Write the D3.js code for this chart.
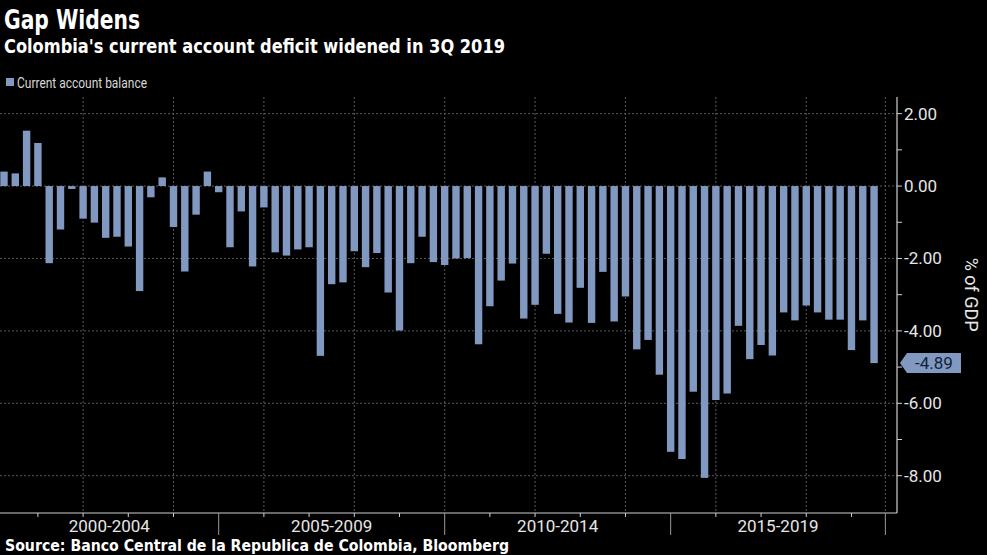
<!DOCTYPE html>
<html>
<head>
<meta charset="utf-8">
<script src="https://cdn.jsdelivr.net/npm/d3@7/dist/d3.min.js"></script>
<style>
  html, body { margin: 0; padding: 0; background: #000; }
  svg { display: block; }
</style>
</head>
<body>
<svg id="chart" width="987" height="555"></svg>
<script>
const title = "Gap Widens";
const subtitle = "Colombia's current account deficit widened in 3Q 2019";
const legendLabel = "Current account balance";
const source = "Source: Banco Central de la Republica de Colombia, Bloomberg";
const yAxisTitle = "% of GDP";

const quarters = [
  "2000Q2","2000Q3","2000Q4",
  "2001Q1","2001Q2","2001Q3","2001Q4",
  "2002Q1","2002Q2","2002Q3","2002Q4",
  "2003Q1","2003Q2","2003Q3","2003Q4",
  "2004Q1","2004Q2","2004Q3","2004Q4",
  "2005Q1","2005Q2","2005Q3","2005Q4",
  "2006Q1","2006Q2","2006Q3","2006Q4",
  "2007Q1","2007Q2","2007Q3","2007Q4",
  "2008Q1","2008Q2","2008Q3","2008Q4",
  "2009Q1","2009Q2","2009Q3","2009Q4",
  "2010Q1","2010Q2","2010Q3","2010Q4",
  "2011Q1","2011Q2","2011Q3","2011Q4",
  "2012Q1","2012Q2","2012Q3","2012Q4",
  "2013Q1","2013Q2","2013Q3","2013Q4",
  "2014Q1","2014Q2","2014Q3","2014Q4",
  "2015Q1","2015Q2","2015Q3","2015Q4",
  "2016Q1","2016Q2","2016Q3","2016Q4",
  "2017Q1","2017Q2","2017Q3","2017Q4",
  "2018Q1","2018Q2","2018Q3","2018Q4",
  "2019Q1","2019Q2","2019Q3"
];

const values = [
  0.40, 0.35, 1.53,
  1.19, -2.13, -1.20, -0.08,
  -0.90, -1.01, -1.43, -1.40,
  -1.67, -2.90, -0.31, 0.24,
  -1.13, -2.36, -0.79, 0.40,
  -0.17, -1.69, -0.70, -2.22,
  -0.59, -1.83, -1.92, -1.75,
  -1.69, -4.69, -2.71, -2.66,
  -1.80, -2.24, -1.85, -2.94,
  -3.99, -2.13, -1.40, -2.10,
  -2.18, -2.00, -1.99, -4.37,
  -3.32, -2.61, -2.14, -3.66,
  -3.28, -1.87, -3.53, -3.77,
  -2.81, -3.78, -2.37, -3.74,
  -3.05, -4.51, -4.25, -5.21,
  -7.34, -7.54, -5.68, -8.06,
  -5.91, -5.73, -3.86, -4.78,
  -4.39, -4.68, -3.49, -3.71,
  -3.30, -3.49, -3.69, -3.69,
  -4.53, -3.71, -4.89
];

const yTicks = [2, 0, -2, -4, -6, -8];
const yMinorTicks = [1, -1, -3, -5, -7];
const groupLabels = ["2000-2004", "2005-2009", "2010-2014", "2015-2019"];
const groupStarts = ["2005Q1", "2010Q1", "2015Q1"];  // separators between groups
const gridQuarters = ["2002Q1","2004Q1","2006Q1","2008Q1","2010Q1","2012Q1","2014Q1","2016Q1","2018Q1"];

// ---------- layout ----------
const svg = d3.select("#chart");
const W = 987, H = 555;
const plot = { left: 0, right: 897, top: 97, bottom: 513 };

svg.append("rect").attr("width", W).attr("height", H).attr("fill", "#000");

const idx = q => quarters.indexOf(q);
const n = quarters.length;

const x = d3.scaleLinear()
  .domain([-0.354, n + 1.03])
  .range([plot.left, plot.right]);
const step = x(1) - x(0);
const barW = step * 0.655;

const y = d3.scaleLinear()
  .domain([-9.03, 2.46])
  .range([plot.bottom, plot.top]);

const textCol = "#e6e6e6";
const axisCol = "#d0d0d0";
const gridCol = "#5a5a5a";
const barCol = "#8199c0";
const FONT = "Roboto, 'Open Sans', sans-serif";
const BOLD = "'DejaVu Sans Condensed', 'DejaVu Sans', sans-serif";

// ---------- gridlines ----------
const grid = svg.append("g");
grid.selectAll("line.h").data(yTicks).join("line")
  .attr("x1", plot.left).attr("x2", plot.right)
  .attr("y1", d => y(d)).attr("y2", d => y(d))
  .attr("stroke", gridCol).attr("stroke-width", 1)
  .attr("stroke-dasharray", "2,2");

const endIdx = n; // position right after the last quarter
const vGrid = gridQuarters.map(idx).concat([endIdx]);
grid.selectAll("line.v").data(vGrid).join("line")
  .attr("x1", d => x(d)).attr("x2", d => x(d))
  .attr("y1", plot.top).attr("y2", plot.bottom)
  .attr("stroke", gridCol).attr("stroke-width", 1)
  .attr("stroke-dasharray", "2,2");

// ---------- bars ----------
svg.append("g").selectAll("rect").data(values).join("rect")
  .attr("x", (d, i) => x(i) - barW / 2)
  .attr("width", barW)
  .attr("y", d => y(Math.max(0, d)))
  .attr("height", d => Math.abs(y(d) - y(0)))
  .attr("fill", barCol);

// ---------- y axis (right) ----------
const yAxis = svg.append("g");
yAxis.append("line")
  .attr("x1", plot.right).attr("x2", plot.right)
  .attr("y1", plot.top).attr("y2", plot.bottom)
  .attr("stroke", axisCol).attr("stroke-width", 1.2);
yAxis.selectAll("line.t").data(yTicks.concat(yMinorTicks)).join("line")
  .attr("x1", plot.right).attr("x2", plot.right + 5)
  .attr("y1", d => y(d)).attr("y2", d => y(d))
  .attr("stroke", axisCol).attr("stroke-width", 1);
yAxis.selectAll("text").data(yTicks).join("text")
  .attr("x", plot.right + 7)
  .attr("y", d => y(d))
  .attr("dy", "0.35em")
  .attr("fill", textCol)
  .attr("font-family", FONT)
  .attr("font-size", 17)
  .text(d => d3.format(".2f")(d).replace("−", "-"));

svg.append("text")
  .attr("transform", `translate(965, ${y(-3)}) rotate(90)`)
  .attr("text-anchor", "middle")
  .attr("fill", textCol)
  .attr("font-family", FONT)
  .attr("font-size", 18)
  .text(yAxisTitle);

// ---------- x axis ----------
const xAxis = svg.append("g");
xAxis.append("line")
  .attr("x1", plot.left).attr("x2", plot.right)
  .attr("y1", plot.bottom).attr("y2", plot.bottom)
  .attr("stroke", axisCol).attr("stroke-width", 1.2);

const sepIdx = groupStarts.map(idx).concat([endIdx]);
const yearIdx = quarters.map((q, i) => q.endsWith("Q1") ? i : -1)
  .filter(i => i >= 0 && !sepIdx.includes(i));
xAxis.selectAll("line.minor").data(yearIdx).join("line")
  .attr("x1", d => x(d)).attr("x2", d => x(d))
  .attr("y1", plot.bottom).attr("y2", plot.bottom + 4)
  .attr("stroke", axisCol).attr("stroke-width", 1);
xAxis.selectAll("line.major").data(sepIdx).join("line")
  .attr("x1", d => x(d)).attr("x2", d => x(d))
  .attr("y1", plot.bottom).attr("y2", plot.bottom + 22)
  .attr("stroke", "#9a9a9a").attr("stroke-width", 1);

const bounds = [plot.left].concat(sepIdx.map(d => x(d)));
xAxis.selectAll("text").data(groupLabels).join("text")
  .attr("x", (d, i) => (bounds[i] + bounds[i + 1]) / 2)
  .attr("y", 532)
  .attr("text-anchor", "middle")
  .attr("fill", textCol)
  .attr("font-family", FONT)
  .attr("font-size", 17)
  .text(d => d);

// ---------- last value tag ----------
const lastV = values[n - 1];
const ly = y(lastV);
const tag = svg.append("g");
tag.append("path")
  .attr("d", `M${plot.right + 3},${ly} L${plot.right + 10},${ly - 10} L${961},${ly - 10} L${961},${ly + 10} L${plot.right + 10},${ly + 10} Z`)
  .attr("fill", barCol);
tag.append("text")
  .attr("x", 934).attr("y", ly)
  .attr("dy", "0.36em")
  .attr("text-anchor", "middle")
  .attr("fill", "#14213a")
  .attr("font-family", FONT)
  .attr("font-size", 17)
  .text(d3.format(".2f")(lastV).replace("−", "-"));

// ---------- titles ----------
svg.append("text")
  .attr("x", 4).attr("y", 29)
  .attr("fill", "#fff")
  .attr("font-family", BOLD)
  .attr("font-weight", "bold")
  .attr("font-size", 27)
  .attr("textLength", 136).attr("lengthAdjust", "spacingAndGlyphs")
  .text(title);

svg.append("text")
  .attr("x", 4).attr("y", 53)
  .attr("fill", "#fff")
  .attr("font-family", BOLD)
  .attr("font-weight", "bold")
  .attr("font-size", 19)
  .attr("textLength", 501).attr("lengthAdjust", "spacingAndGlyphs")
  .text(subtitle);

// legend
svg.append("rect")
  .attr("x", 6).attr("y", 78).attr("width", 8).attr("height", 8)
  .attr("fill", barCol);
svg.append("text")
  .attr("x", 17).attr("y", 87.5)
  .attr("fill", "#d8d8d8")
  .attr("font-family", FONT)
  .attr("font-size", 14)
  .attr("textLength", 130).attr("lengthAdjust", "spacingAndGlyphs")
  .text(legendLabel);

// source
svg.append("text")
  .attr("x", 5).attr("y", 551)
  .attr("fill", "#fff")
  .attr("font-family", BOLD)
  .attr("font-weight", "bold")
  .attr("font-size", 15)
  .attr("textLength", 504).attr("lengthAdjust", "spacingAndGlyphs")
  .text(source);
</script>
</body>
</html>
